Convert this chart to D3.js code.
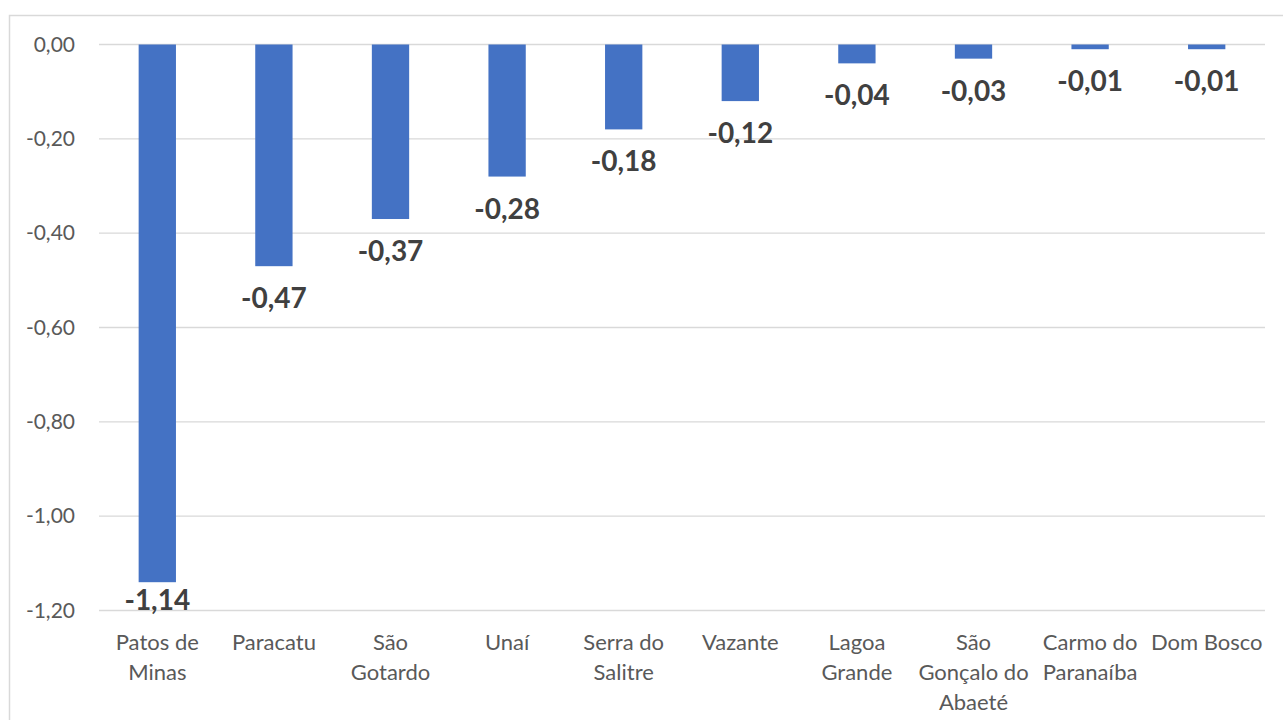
<!DOCTYPE html>
<html>
<head>
<meta charset="utf-8">
<title>Variação por município</title>
<script src="https://cdn.jsdelivr.net/npm/d3@7/dist/d3.min.js"></script>
<style>
	html, body { margin: 0; padding: 0; background: #ffffff; }
	.vis text { font-family: Lato, 'Noto Sans', sans-serif; }
</style>
</head>
<body>
<div class="vis"></div>
<script>
'use strict';

// data
var categories = ['Patos de Minas', 'Paracatu', 'São Gotardo', 'Unaí', 'Serra do Salitre', 'Vazante', 'Lagoa Grande', 'São Gonçalo do Abaeté', 'Carmo do Paranaíba', 'Dom Bosco'];
var categoryLines = [['Patos de', 'Minas'], ['Paracatu'], ['São', 'Gotardo'], ['Unaí'], ['Serra do', 'Salitre'], ['Vazante'], ['Lagoa', 'Grande'], ['São', 'Gonçalo do', 'Abaeté'], ['Carmo do', 'Paranaíba'], ['Dom Bosco']];
var values = [-1.14, -0.47, -0.37, -0.28, -0.18, -0.12, -0.04, -0.03, -0.01, -0.01];
var yTicks = [0, -0.2, -0.4, -0.6, -0.8, -1.0, -1.2];

(function ( window, document, undefined ) {

	visualize();

	/**
	 * Draws the bar chart of negative values per city.
	 */
	function visualize() {
		var width = 1283;
		var height = 720;

		var barColor = '#4472c4';
		var gridColor = '#d9d9d9';
		var axisTextColor = '#595959';
		var labelColor = '#404040';

		// brazilian number format with plain hyphen minus
		var locale = d3.formatLocale({ decimal: ',', thousands: '.', grouping: [3], currency: ['R$', ''], minus: '-' });
		var fmt = locale.format('.2f');

		var x = d3.scaleBand()
			.domain( categories )
			.range( [99, 1265] )
			.paddingInner( 0.68 )
			.paddingOuter( 0.34 );

		var y = d3.scaleLinear()
			.domain( [-1.2, 0] )
			.range( [610.5, 44.5] );

		var svg = d3.select('.vis')
			.append('svg')
				.attr('width', width)
				.attr('height', height);

		// chart border (only top and left edges are inside the picture)
		svg.append('rect')
			.attr('x', 9.5)
			.attr('y', 15.5)
			.attr('width', 1400)
			.attr('height', 900)
			.attr('fill', 'none')
			.attr('stroke', gridColor)
			.attr('stroke-width', 1.5);

		// gridlines
		svg.append('g')
			.selectAll('line')
			.data( yTicks )
			.enter()
			.append('line')
				.attr('x1', 99)
				.attr('x2', 1265)
				.attr('y1', function(d) { return y( d ); })
				.attr('y2', function(d) { return y( d ); })
				.attr('stroke', gridColor)
				.attr('stroke-width', 1.3);

		// y axis labels
		var yAxis = d3.axisLeft( y )
			.tickValues( yTicks )
			.tickFormat( fmt )
			.tickSize( 0 )
			.tickPadding( 24 );

		var yg = svg.append('g')
			.attr('transform', 'translate(99,0)')
			.call( yAxis );

		yg.select('.domain').remove();
		yg.selectAll('text')
			.attr('fill', axisTextColor)
			.style('font-size', '21px');

		// bars
		svg.append('g')
			.selectAll('rect')
			.data( values )
			.enter()
			.append('rect')
				.attr('x', function(d, i) { return x( categories[i] ); })
				.attr('y', y( 0 ))
				.attr('width', x.bandwidth())
				.attr('height', function(d) { return y( d ) - y( 0 ); })
				.attr('fill', barColor);

		// data labels below bar ends
		svg.append('g')
			.selectAll('text')
			.data( values )
			.enter()
			.append('text')
				.attr('x', function(d, i) { return x( categories[i] ) + x.bandwidth() / 2; })
				.attr('y', function(d) { return Math.min( y( d ) + 32, 600 ); })
				.attr('dy', '0.36em')
				.attr('text-anchor', 'middle')
				.attr('fill', labelColor)
				.style('font-size', '28px')
				.style('font-weight', 'bold')
				.text( fmt );

		// category labels
		var cats = svg.append('g')
			.selectAll('text')
			.data( categories )
			.enter()
			.append('text')
				.attr('x', function(d) { return x( d ) + x.bandwidth() / 2; })
				.attr('y', 650)
				.attr('text-anchor', 'middle')
				.attr('fill', axisTextColor)
				.style('font-size', '22px');

		cats.each(function(d, i) {
			var t = d3.select( this );
			categoryLines[i].forEach(function(line, j) {
				t.append('tspan')
					.attr('x', x( d ) + x.bandwidth() / 2)
					.attr('dy', j === 0 ? 0 : 30)
					.text( line );
			});
		});
	}

})( this, document );
</script>
</body>
</html>
